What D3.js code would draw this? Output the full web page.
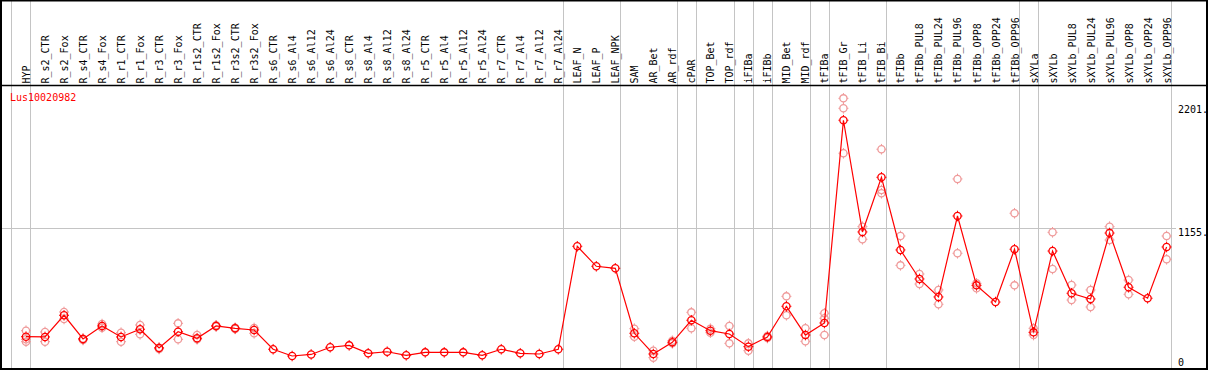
<!DOCTYPE html>
<html>
<head>
<meta charset="utf-8">
<script src="https://cdn.jsdelivr.net/npm/d3@7"></script>
<style>
  body { margin: 0; background: #fff; }
  svg text { font-family: "DejaVu Sans Mono", monospace; font-size: 10px; }
</style>
</head>
<body>
<div id="chart"></div>
<script>
// Expression profile for one gene across samples

const geneName = 'Lus10020982';

const samples = [
  'HYP', 'R_s2_CTR', 'R_s2_Fox', 'R_s4_CTR', 'R_s4_Fox', 'R_r1_CTR', 'R_r1_Fox',
  'R_r3_CTR', 'R_r3_Fox', 'R_r1s2_CTR', 'R_r1s2_Fox', 'R_r3s2_CTR', 'R_r3s2_Fox',
  'R_s6_CTR', 'R_s6_Al4', 'R_s6_Al12', 'R_s6_Al24', 'R_s8_CTR', 'R_s8_Al4', 'R_s8_Al12',
  'R_s8_Al24', 'R_r5_CTR', 'R_r5_Al4', 'R_r5_Al12', 'R_r5_Al24', 'R_r7_CTR', 'R_r7_Al4',
  'R_r7_Al12', 'R_r7_Al24', 'LEAF_N', 'LEAF_P', 'LEAF_NPK', 'SAM', 'AR_Bet', 'AR_rdf',
  'cPAR', 'TOP_Bet', 'TOP_rdf', 'iFIBa', 'iFIBb', 'MID_Bet', 'MID_rdf', 'tFIBa',
  'tFIB_Gr', 'tFIB_Li', 'tFIB_Bi', 'tFIBb', 'tFIBb_PUL8', 'tFIBb_PUL24', 'tFIBb_PUL96',
  'tFIBb_OPP8', 'tFIBb_OPP24', 'tFIBb_OPP96', 'sXYLa', 'sXYLb', 'sXYLb_PUL8',
  'sXYLb_PUL24', 'sXYLb_PUL96', 'sXYLb_OPP8', 'sXYLb_OPP24', 'sXYLb_OPP96'
];

// mean expression per sample
const means = [
  239, 237, 420, 220, 330, 237, 302, 144, 281, 226, 330, 310, 296,
  133, 76, 89, 150, 166, 99, 112, 82, 107, 107, 107, 82, 133, 99, 93, 133,
  1003, 834, 817, 268, 93, 192, 378, 290, 262, 155, 237, 496, 253, 355,
  2068, 1124, 1586, 972, 727, 575, 1259, 673, 532, 978,
  276, 963, 606, 558, 1115, 657, 564, 997
];

// individual replicates (empty where they sit on the mean)
const replicates = [
  [290, 217, 197], [279, 197], [448, 389], [222, 211], [346, 315], [273, 197], [338, 259],
  [146, 135], [352, 217], [253, 217], [325, 335], [305, 315], [313, 268],
  [], [], [], [], [], [], [], [], [], [], [], [], [], [], [], [],
  [], [], [], [307, 239], [121, 62], [205, 183], [445, 310], [307, 273], [330, 183],
  [183, 121], [245, 228], [580, 420], [310, 200], [437, 395, 253],
  [2253, 2169, 1789], [1169, 1062], [1823, 1479, 1451], [1090, 842], [769, 684],
  [634, 513], [1572, 944], [690, 648], [], [1282, 673],
  [310, 253], [1121, 811], [676, 549], [634, 490], [1169, 1056], [718, 597], [], [1090, 893]
];

// first sample of each group; separators are drawn in front of them
const groupStarts = ['HYP', 'R_s2_CTR', 'LEAF_N', 'SAM', 'cPAR', 'TOP_Bet', 'iFIBa', 'iFIBb',
  'MID_Bet', 'tFIBa', 'tFIB_Gr', 'tFIBb', 'sXYLa', 'sXYLb'];

const yTicks = [2201, 1155, 0];
const yTickLabels = ['2201.', '1155.', '0'];

const width = 1209;
const height = 370;
const red = '#ff0000';
const pink = '#ef9a9a';
const grid = '#c4c4c4';

const svg = d3.select('#chart').append('svg')
  .attr('width', width)
  .attr('height', height);

const x = d3.scalePoint().domain(samples).range([26, 1166.6]);
const step = x.step();
const y = d3.scaleLinear().domain([0, 2201]).range([365, 104.5]);

// vertical group separators
const sepX = groupStarts.map(s => x(s) - 0.77 * step);
sepX.push(x(samples[samples.length - 1]) + 0.23 * step);
svg.append('g').selectAll('line')
  .data(sepX)
  .enter().append('line')
  .attr('x1', d => Math.round(d) + 0.5).attr('x2', d => Math.round(d) + 0.5)
  .attr('y1', 1).attr('y2', 369)
  .attr('stroke', grid).attr('stroke-width', 1);

// horizontal gridline at middle tick
svg.append('line')
  .attr('x1', 2).attr('x2', 1176)
  .attr('y1', Math.round(y(1155)) + 0.5).attr('y2', Math.round(y(1155)) + 0.5)
  .attr('stroke', grid).attr('stroke-width', 1);

// frame
svg.append('rect')
  .attr('x', 1).attr('y', 0.5).attr('width', 1206).attr('height', 368.5)
  .attr('fill', 'none').attr('stroke', '#000').attr('stroke-width', 2);
svg.append('line')
  .attr('x1', 1).attr('x2', 1208).attr('y1', 85.5).attr('y2', 85.5)
  .attr('stroke', '#000').attr('stroke-width', 1.5);

// sample labels, reading upward from just above the header line
svg.append('g').selectAll('text')
  .data(samples)
  .enter().append('text')
  .attr('transform', d => `translate(${x(d) + 4},83.5) rotate(-90)`)
  .attr('text-anchor', 'start')
  .attr('fill', '#000')
  .text(d => d);

// right axis labels
svg.append('g').selectAll('text')
  .data(yTicks)
  .enter().append('text')
  .attr('x', 1178)
  .attr('y', d => Math.min(y(d) + 8, 365.5))
  .attr('fill', '#000')
  .text((d, i) => yTickLabels[i]);

svg.append('text')
  .attr('x', 10).attr('y', 101)
  .attr('fill', red)
  .text(geneName);

function marker(g, cx, cy, color) {
  g.append('circle')
    .attr('cx', cx).attr('cy', cy).attr('r', 3.6)
    .attr('fill', 'none').attr('stroke', color).attr('stroke-width', 1.3);
  const t = [[0, -3.6, 0, -5.3], [0, 3.6, 0, 5.3], [-3.6, 0, -5, 0], [3.6, 0, 5, 0]];
  t.forEach(([a, b, c, e]) => {
    g.append('line')
      .attr('x1', cx + a).attr('y1', cy + b).attr('x2', cx + c).attr('y2', cy + e)
      .attr('stroke', color).attr('stroke-width', 1);
  });
}

// replicate markers
const repG = svg.append('g');
replicates.forEach((reps, i) => {
  reps.forEach(v => marker(repG, x(samples[i]), y(v), pink));
});

// mean line
const line = d3.line()
  .x((d, i) => x(samples[i]))
  .y(d => y(d));
svg.append('path')
  .datum(means)
  .attr('d', line)
  .attr('fill', 'none')
  .attr('stroke', red)
  .attr('stroke-width', 1.2);

// mean markers
const meanG = svg.append('g');
means.forEach((v, i) => marker(meanG, x(samples[i]), y(v), red));
</script>
</body>
</html>
